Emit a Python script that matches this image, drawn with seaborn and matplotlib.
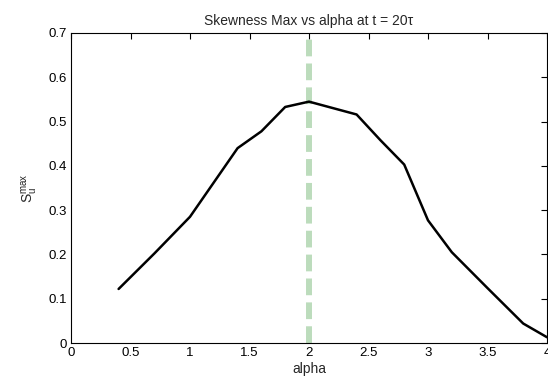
import matplotlib
matplotlib.use("Agg")
import matplotlib.pyplot as plt
import seaborn as sns
import pandas as pd

alpha = [0.4, 0.7, 1.0, 1.4, 1.6, 1.8, 2.0, 2.4, 2.6, 2.8, 3.0, 3.2, 3.5, 3.8, 4.0]
skew_max = [0.122, 0.202, 0.285, 0.44, 0.478, 0.533, 0.545, 0.516, 0.458, 0.403, 0.277, 0.205, 0.124, 0.044, 0.013]
marker_alpha = 2.0
x_ticks = [0, 0.5, 1, 1.5, 2, 2.5, 3, 3.5, 4]
y_ticks = [0, 0.1, 0.2, 0.3, 0.4, 0.5, 0.6, 0.7]

sns.set_style("white")
plt.rcParams['font.family'] = ['Liberation Sans', 'DejaVu Sans']
plt.rcParams['mathtext.fontset'] = 'custom'
plt.rcParams['mathtext.rm'] = 'Liberation Sans'
plt.rcParams['mathtext.it'] = 'Liberation Sans'

df = pd.DataFrame({"alpha": alpha, "S": skew_max})

fig = plt.figure(figsize=(5.48, 3.85), dpi=100)
ax = fig.add_axes([71/548, 1-343/385, 476/548, 310/385])

ax.axvline(marker_alpha, color="#bcdcbc", lw=4.3, ls=(0, (2.8, 1.2)), zorder=1)
sns.lineplot(data=df, x="alpha", y="S", ax=ax, color="black", lw=1.8, zorder=2)

ax.set_xlim(0, 4)
ax.set_ylim(0, 0.7)
ax.set_xticks(x_ticks)
ax.set_xticklabels([f"{t:g}" for t in x_ticks])
ax.set_yticks(y_ticks)
ax.set_yticklabels([f"{t:g}" for t in y_ticks])
ax.tick_params(direction="in", length=4, width=0.8, top=True, right=True,
               labelsize=9.5, colors="black", pad=3)
for s in ax.spines.values():
    s.set_visible(True)
    s.set_color("black")
    s.set_linewidth(0.8)

ax.set_xlabel("alpha", fontsize=10, labelpad=2)
ax.set_ylabel(r"S$_\mathregular{u}^\mathregular{max}$", fontsize=10, labelpad=6)
ax.set_title("Skewness Max vs alpha at t = 20τ", fontsize=10, pad=6)

fig.savefig("out.png", dpi=100, facecolor="white")
